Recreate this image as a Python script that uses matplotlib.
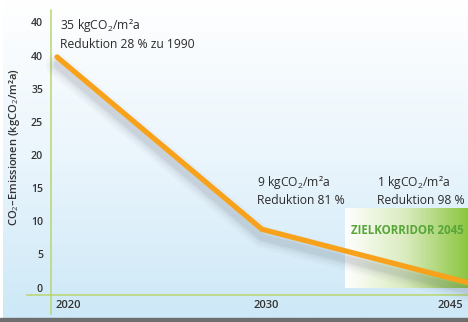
import numpy as np
import matplotlib
matplotlib.use("Agg")
import matplotlib.pyplot as plt
from matplotlib import transforms
from matplotlib.colors import LinearSegmentedColormap

plt.rcParams['font.family'] = ['Open Sans', 'DejaVu Sans']
plt.rcParams['mathtext.fontset'] = 'custom'
plt.rcParams['mathtext.rm'] = 'Open Sans'
plt.rcParams['mathtext.it'] = 'Open Sans'

# emissions path
years = ['2020', '2030', '2045']
emissions = [35, 9, 1]
notes = ['35 kgCO$_2$/m²a\nReduktion 28 % zu 1990',
         '9 kgCO$_2$/m²a\nReduktion 81 %',
         '1 kgCO$_2$/m²a\nReduktion 98 %']
ytick_pos = [0, 5, 10, 15, 20, 25, 30, 35, 40]
ytick_lbl = ['0', '5', '10', '15', '20', '25', '35', '40', '40']

W, H = 468, 322
fig = plt.figure(figsize=(W / 100, H / 100), dpi=100)

# one axes over the whole figure; limits put 2020 at x=57px, 2045 at x=467px,
# y=0 at 289px and y=35 at 57px from the top
x0, dx = 57, 205
y0, dy = 289, 232 / 35
ax = fig.add_axes([0, 0, 1, 1])
ax.set_xlim(-x0 / dx, (W - x0) / dx)
ax.set_ylim(-(H - y0) / dy, y0 / dy)
ax.axis('off')

def fx(px):
    return px / W

def fy(py):
    return 1 - py / H

# background: white at the top fading to pale blue
grad = np.linspace(0, 1, 256)[:, None]
bg = LinearSegmentedColormap.from_list('bg', ['#cde8f7', '#eaf5fc', '#ffffff'])
ax.imshow(grad, cmap=bg, aspect='auto', extent=[fx(3), 1, fy(318), 1],
          transform=ax.transAxes, origin='lower', zorder=0)
ax.add_patch(plt.Rectangle((0, 0), 1, fy(318), transform=ax.transAxes,
                           color='#6e6e6e', zorder=1))

# target corridor box
green = LinearSegmentedColormap.from_list('gr', ['#ffffff', '#d9ebbd', '#8cc63f'])
hgrad = np.linspace(0, 1, 256)[None, :]
ax.imshow(hgrad, cmap=green, aspect='auto', extent=[fx(345), 1, fy(288), fy(209)],
          transform=ax.transAxes, zorder=2)
ax.text(fx(351), fy(230), 'ZIELKORRIDOR 2045', transform=ax.transAxes,
        color='#58a63a', fontsize=8.3, fontweight='bold', va='center', zorder=3)

# axis lines
axis_col = '#b8d66e'
ax.plot([fx(51), fx(51)], [fy(314), fy(10)], color=axis_col, lw=1.1,
        transform=ax.transAxes, zorder=3)
ax.plot([fx(27), 1], [fy(295), fy(295)], color=axis_col, lw=1.1,
        transform=ax.transAxes, zorder=3)

# tick labels
ytrans = transforms.blended_transform_factory(ax.transAxes, ax.transData)
for v, lbl in zip(ytick_pos, ytick_lbl):
    ax.text(fx(43), v, lbl, transform=ytrans, ha='right', va='center',
            fontsize=7.6, color='#333333', fontweight='semibold', zorder=3)
xs = np.arange(len(years))
xtrans = transforms.blended_transform_factory(ax.transData, ax.transAxes)
for x, lbl, ha in zip(xs, years, ['left', 'center', 'right']):
    off = {'left': -2 / dx, 'center': 4 / dx, 'right': -4 / dx}[ha]
    ax.text(x + off, fy(306), lbl, transform=xtrans, ha=ha, va='center',
            fontsize=8, color='#333333', fontweight='semibold', zorder=3)

ax.text(fx(15), fy(147), 'CO$_2$–Emissionen (kgCO$_2$/m²a)', transform=ax.transAxes,
        rotation=90, ha='center', va='center', fontsize=8.0, color='#333333',
        fontweight='semibold', zorder=3)

# soft shadow under the line
for w, a in [(16, 0.035), (12, 0.05), (8, 0.07), (5, 0.09)]:
    off = transforms.offset_copy(ax.transData, fig=fig, x=0, y=-8, units='dots')
    ax.plot(xs, emissions, color='#5a6470', lw=w, alpha=a, transform=off,
            solid_capstyle='round', solid_joinstyle='round', zorder=4)

ax.plot(xs, emissions, color='#f8a21c', lw=3.8, solid_capstyle='round',
        solid_joinstyle='miter', zorder=5)

# value notes
note_pos = [(60, 34), (257, 191), (377, 191)]
for (px, py), txt in zip(note_pos, notes):
    ax.text(fx(px), fy(py), txt, transform=ax.transAxes, ha='left', va='center',
            fontsize=8.7, color='#2b2b2b', linespacing=1.3, zorder=6)

fig.savefig('out.png', dpi=100)
